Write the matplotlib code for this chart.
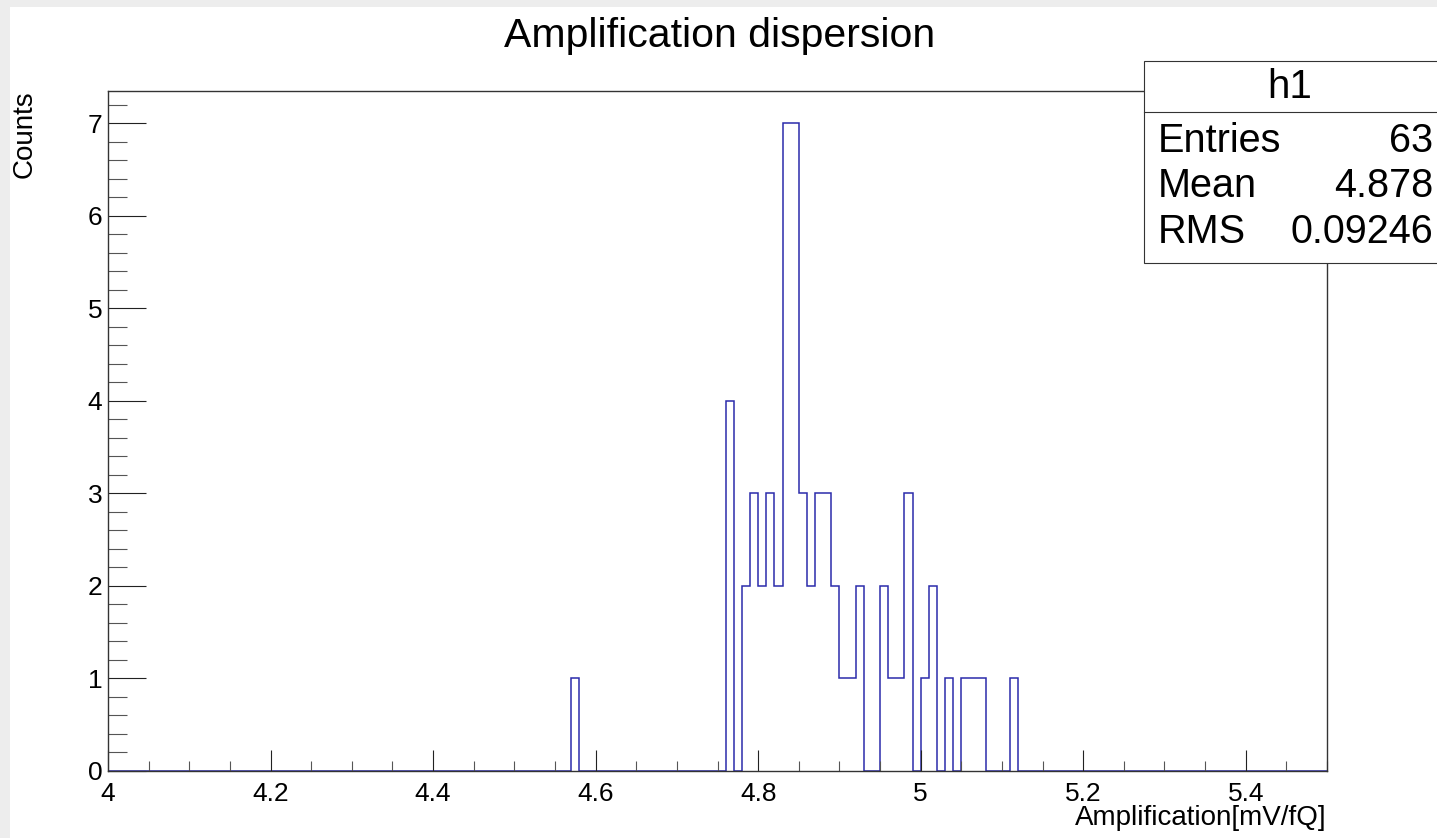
import numpy as np
import matplotlib.pyplot as plt
from matplotlib.patches import Rectangle
from matplotlib.ticker import MultipleLocator

plt.rcParams['font.family'] = ['Liberation Sans', 'DejaVu Sans']

# histogram data: lower edge of each filled bin (width 0.01) and its count
bin_low = [4.57, 4.76, 4.78, 4.79, 4.80, 4.81, 4.82, 4.83, 4.84, 4.85, 4.86,
           4.87, 4.88, 4.89, 4.90, 4.91, 4.92, 4.95, 4.96, 4.97, 4.98, 5.00,
           5.01, 5.03, 5.05, 5.06, 5.07, 5.11]
counts = [1, 4, 2, 3, 2, 3, 2, 7, 7, 3, 2,
          3, 3, 2, 1, 1, 2, 2, 1, 1, 3, 1,
          2, 1, 1, 1, 1, 1]
x_min, x_max, n_bins = 4.0, 5.5, 150

stats_rows = [('Entries', '63'), ('Mean', '4.878'), ('RMS', '0.09246')]

W, H = 1437, 838
fig = plt.figure(figsize=(W / 100, H / 100), dpi=100, facecolor='#ededed')

def fx(px):
    return px / W

def fy(py):
    return 1 - py / H

# white canvas inside the grey window border
fig.patches.append(Rectangle((fx(10), 0), 1, fy(7), transform=fig.transFigure,
                             facecolor='white', edgecolor='none', zorder=-5))

ax = fig.add_axes([fx(108), fy(771), fx(1327) - fx(108), fy(91) - fy(771)])
ax.set_facecolor('white')

edges = np.linspace(x_min, x_max, n_bins + 1)
centers = np.array(bin_low) + 0.005
ax.hist(centers, bins=edges, weights=counts, histtype='step',
        color='#2b2bab', linewidth=1.1, zorder=0.5)

ax.set_xlim(x_min, x_max)
ax.set_ylim(0, 7.35)

ax.xaxis.set_minor_locator(MultipleLocator(0.05))
ax.yaxis.set_minor_locator(MultipleLocator(0.2))
ax.set_xticks(np.arange(4.0, 5.41, 0.2))
ax.set_xticklabels(['4', '4.2', '4.4', '4.6', '4.8', '5', '5.2', '5.4'])
ax.set_yticks(np.arange(0, 8, 1))
ax.set_yticklabels([str(i) for i in range(8)])

ax.tick_params(axis='x', which='major', direction='in', length=15, width=0.8,
               labelsize=19, pad=8, color='#222222')
ax.tick_params(axis='x', which='minor', direction='in', length=7.5, width=0.8,
               color='#555555')
ax.tick_params(axis='y', which='major', direction='in', length=27, width=0.8,
               labelsize=19, pad=4, color='#222222')
ax.tick_params(axis='y', which='minor', direction='in', length=13.5, width=0.8,
               color='#555555')
for s in ax.spines.values():
    s.set_linewidth(1.0)
    s.set_color('#333333')
    s.set_zorder(3)

# ROOT-style titles
fig.text(fx(720), fy(36), 'Amplification dispersion', ha='center', va='center',
         fontsize=29.5)
fig.text(fx(1327), fy(818), 'Amplification[mV/fQ]', ha='right', va='center',
         fontsize=20)
fig.text(fx(25), fy(90), 'Counts', ha='center', va='top', rotation=90,
         fontsize=20)

# stats box
bx0, by0, by1, bsep = 1144, 61, 263, 112
fig.patches.append(Rectangle((fx(bx0), fy(by1)), fx(W + 20) - fx(bx0),
                             fy(by0) - fy(by1), transform=fig.transFigure,
                             facecolor='white', edgecolor='#333333',
                             linewidth=0.8, zorder=5))
fig.lines.append(plt.Line2D([fx(bx0), 1.01], [fy(bsep), fy(bsep)],
                            transform=fig.transFigure, color='#333333',
                            linewidth=0.8, zorder=6))
fig.text(fx(1290), fy(87), 'h1', ha='center', va='center', fontsize=29,
         zorder=7)
row_y = [141, 186, 232]
for (name, val), yy in zip(stats_rows, row_y):
    fig.text(fx(1158), fy(yy), name, ha='left', va='center', fontsize=28.5,
             zorder=7)
    fig.text(fx(1433), fy(yy), val, ha='right', va='center', fontsize=28.5,
             zorder=7)

fig.savefig('out.png', dpi=100)
